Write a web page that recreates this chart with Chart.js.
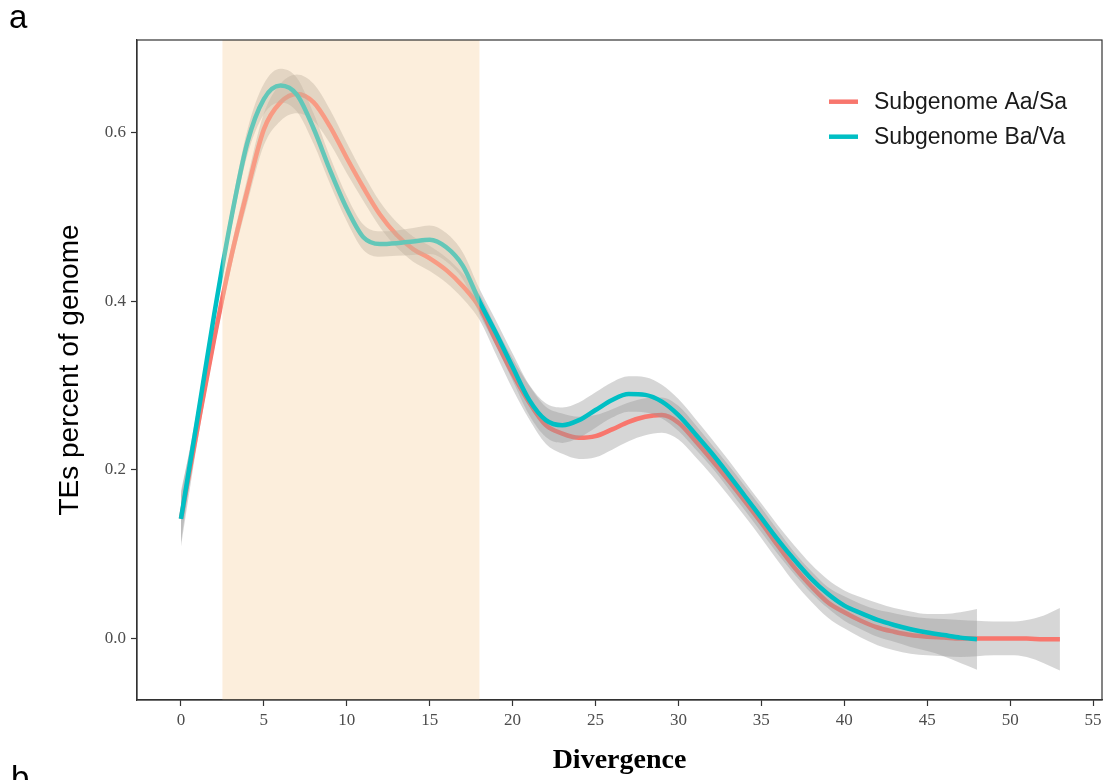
<!DOCTYPE html>
<html>
<head>
<meta charset="utf-8">
<script src="https://cdn.jsdelivr.net/npm/chart.js@4.4.0/dist/chart.umd.min.js"></script>
<style>
  body { margin: 0; background: #fff; overflow: hidden; }
  #wrap { position: relative; width: 1107px; height: 780px; }
  .panel { position: absolute; font-family: "Liberation Sans", Arial, sans-serif; font-size: 33px; line-height: 1; color: #000; }
</style>
</head>
<body>
<div id="wrap">
  <canvas id="chart" width="1107" height="780"></canvas>
  <div class="panel" style="left:9px; top:0px;">a</div>
  <div class="panel" style="left:11px; top:761px;">b</div>
</div>
<script>
// divergence values (x), 0..53
const divergence = [
  0, 1, 2, 3, 4, 5, 6, 7, 8, 9, 10, 11, 12, 13, 14, 15, 16, 17, 18, 19,
  20, 21, 22, 23, 24, 25, 26, 27, 28, 29, 30, 31, 32, 33, 34, 35, 36, 37, 38, 39,
  40, 41, 42, 43, 44, 45, 46, 47, 48, 49, 50, 51, 52, 53
];

// Subgenome Aa/Sa smoothed curve + half width of its grey band
const aaSa = [
  0.142, 0.250, 0.355, 0.450, 0.531, 0.604, 0.636, 0.646, 0.636, 0.607,
  0.570, 0.535, 0.503, 0.479, 0.462, 0.451, 0.437, 0.418, 0.393, 0.353,
  0.314, 0.280, 0.253, 0.243, 0.238, 0.240, 0.248, 0.257, 0.263, 0.265,
  0.256, 0.235, 0.212, 0.188, 0.163, 0.137, 0.110, 0.084, 0.062, 0.043,
  0.031, 0.021, 0.013, 0.008, 0.004, 0.002, 0.001, 0.000, 0.000, 0.000,
  0.000, 0.000, -0.001, -0.001
];
const aaSaSe = [
  0.033, 0.016, 0.012, 0.012, 0.015, 0.019, 0.022, 0.023, 0.022, 0.020,
  0.018, 0.016, 0.015, 0.015, 0.015, 0.015, 0.015, 0.015, 0.015, 0.016,
  0.018, 0.020, 0.022, 0.024, 0.025, 0.025, 0.024, 0.023, 0.022, 0.021,
  0.020, 0.019, 0.018, 0.018, 0.018, 0.018, 0.018, 0.018, 0.018, 0.018,
  0.019, 0.020, 0.021, 0.022, 0.022, 0.022, 0.022, 0.022, 0.021, 0.020,
  0.020, 0.022, 0.028, 0.037
];

// Subgenome Ba/Va (stops at 48)
const baVa = [
  0.142, 0.262, 0.384, 0.495, 0.588, 0.640, 0.656, 0.645, 0.605, 0.555,
  0.510, 0.476, 0.468, 0.469, 0.471, 0.473, 0.464, 0.442, 0.400, 0.362,
  0.322, 0.283, 0.259, 0.253, 0.259, 0.271, 0.283, 0.290, 0.289, 0.281,
  0.265, 0.243, 0.220, 0.195, 0.169, 0.143, 0.117, 0.093, 0.071, 0.053,
  0.039, 0.030, 0.022, 0.016, 0.011, 0.007, 0.004, 0.001, -0.001
];
const baVaSe = [
  0.028, 0.013, 0.011, 0.012, 0.015, 0.018, 0.020, 0.020, 0.018, 0.016,
  0.015, 0.015, 0.015, 0.015, 0.016, 0.017, 0.017, 0.016, 0.015, 0.015,
  0.016, 0.018, 0.020, 0.021, 0.021, 0.021, 0.021, 0.021, 0.021, 0.020,
  0.019, 0.018, 0.017, 0.017, 0.017, 0.017, 0.017, 0.017, 0.017, 0.017,
  0.018, 0.019, 0.020, 0.020, 0.021, 0.022, 0.025, 0.030, 0.036
];

const seriesNames = ["Subgenome Aa/Sa", "Subgenome Ba/Va"];
const seriesColors = ["#F8766D", "#00BFC4"];
const xTicks = [0, 5, 10, 15, 20, 25, 30, 35, 40, 45, 50, 55];
const yTicks = [0, 0.2, 0.4, 0.6];
const shadeRange = [2.5, 18];

const band = "rgba(153,153,153,0.4)";
const tickFont = { family: "Liberation Serif", size: 17 };

function points(vals, off, sign) {
  return vals.map((v, i) => ({ x: divergence[i], y: v + sign * (off ? off[i] : 0) }));
}

function seriesSets(vals, se, name, color, order) {
  const common = { pointRadius: 0, cubicInterpolationMode: "monotone" };
  return [
    { ...common, label: "", data: points(vals, se, -1), borderWidth: 0, fill: false, order: order + 0.2 },
    { ...common, label: "", data: points(vals, se, 1), borderWidth: 0, fill: "-1", backgroundColor: band, order: order + 0.1 },
    { ...common, label: name, data: points(vals, null, 0), borderColor: color, borderWidth: 4.5, fill: false, order: order }
  ];
}

const decor = {
  id: "decor",
  afterDatasetsDraw(chart) {
    const { ctx, chartArea: a, scales: { x } } = chart;
    const x0 = x.getPixelForValue(shadeRange[0]);
    const x1 = x.getPixelForValue(shadeRange[1]);
    ctx.save();
    ctx.fillStyle = "rgba(247,212,167,0.4)";
    ctx.fillRect(x0, a.top, x1 - x0, a.bottom - a.top);
    ctx.strokeStyle = "#333";
    ctx.lineWidth = 1.2;
    ctx.strokeRect(a.left, a.top, a.right - a.left, a.bottom - a.top);
    ctx.restore();
  },
  afterDraw(chart) {
    const ctx = chart.ctx;
    ctx.save();
    ctx.font = "23px 'Liberation Sans', Arial, sans-serif";
    ctx.textBaseline = "alphabetic";
    seriesNames.forEach((name, i) => {
      const y = 101.7 + i * 35;
      ctx.strokeStyle = seriesColors[i];
      ctx.lineWidth = 4.5;
      ctx.beginPath();
      ctx.moveTo(829, y);
      ctx.lineTo(858, y);
      ctx.stroke();
      ctx.fillStyle = "#1a1a1a";
      ctx.fillText(name, 874, y + 7);
    });
    ctx.restore();
  }
};

new Chart(document.getElementById("chart"), {
  type: "line",
  data: {
    datasets: [
      ...seriesSets(aaSa, aaSaSe, seriesNames[0], seriesColors[0], 3),
      ...seriesSets(baVa, baVaSe, seriesNames[1], seriesColors[1], 1)
    ]
  },
  options: {
    responsive: false,
    devicePixelRatio: 1,
    animation: false,
    layout: { padding: { top: 40, right: 5, left: 0, bottom: 0 } },
    plugins: { legend: { display: false }, tooltip: { enabled: false } },
    scales: {
      x: {
        type: "linear",
        min: -2.65,
        max: 55.54,
        afterBuildTicks: s => { s.ticks = xTicks.map(v => ({ value: v })); },
        afterFit: s => { s.height = 80; },
        grid: { drawOnChartArea: false, tickLength: 6, tickColor: "#333", tickWidth: 1.2 },
        border: { color: "#333", width: 1.2 },
        ticks: { color: "#4d4d4d", font: tickFont, padding: 4, maxRotation: 0, autoSkip: false },
        title: {
          display: true, text: "Divergence", color: "#000",
          font: { family: "Liberation Serif", size: 28, weight: "bold" },
          padding: { top: 0, bottom: 2 }
        }
      },
      y: {
        type: "linear",
        min: -0.073,
        max: 0.71,
        afterBuildTicks: s => { s.ticks = yTicks.map(v => ({ value: v })); },
        afterFit: s => { s.width = 137; },
        grid: { drawOnChartArea: false, tickLength: 6, tickColor: "#333", tickWidth: 1.2 },
        border: { color: "#333", width: 1.2 },
        ticks: { color: "#4d4d4d", font: tickFont, padding: 5, callback: v => v.toFixed(1) },
        title: {
          display: true, text: "TEs percent of genome", color: "#000",
          font: { family: "Liberation Sans", size: 28 },
          padding: { top: 53, bottom: 0 }
        }
      }
    }
  },
  plugins: [decor]
});
</script>
</body>
</html>
